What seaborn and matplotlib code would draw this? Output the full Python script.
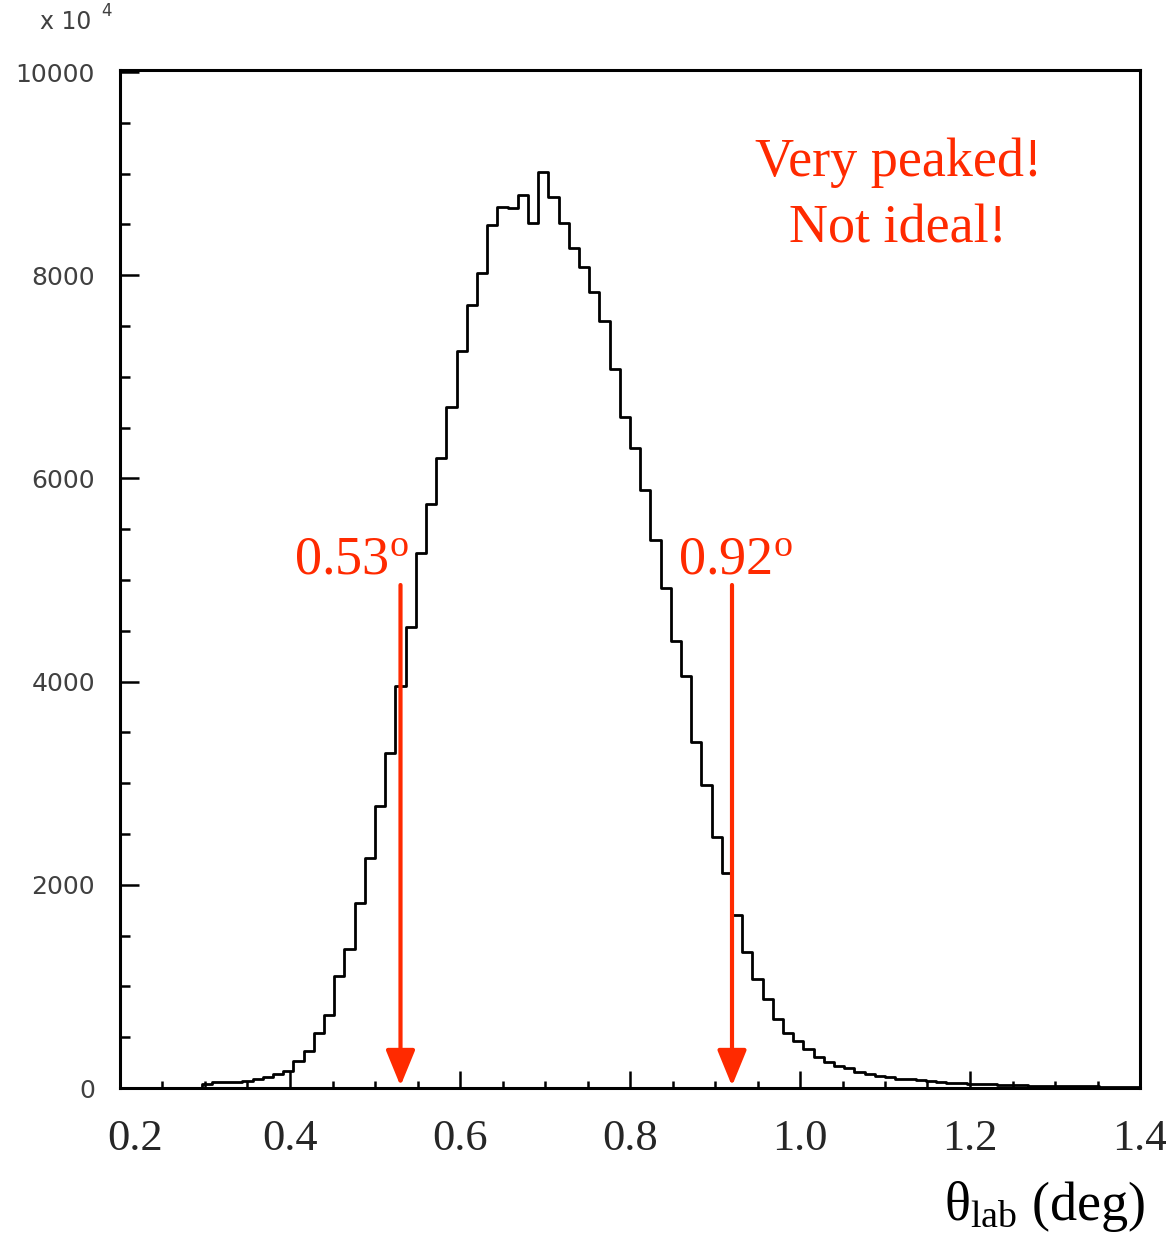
import numpy as np
import pandas as pd
import matplotlib
matplotlib.use("Agg")
import matplotlib.pyplot as plt
from matplotlib.ticker import MultipleLocator
from matplotlib.transforms import ScaledTranslation
import seaborn as sns

# Lab-frame scattering angle distribution: 100 bins of 0.012 deg on [0.2, 1.4] deg
theta_min = 0.2
theta_max = 1.4
n_bins = 100
counts = [
    0, 0, 0, 0, 0, 0, 0, 0, 35, 55,
    55, 62, 72, 88, 110, 135, 167, 270, 360, 540,
    718, 1105, 1366, 1822, 2259, 2779, 3296, 3952, 4535, 5270,
    5745, 6198, 6700, 7251, 7707, 8018, 8494, 8675, 8658, 8789,
    8517, 9019, 8766, 8517, 8264, 8084, 7838, 7553, 7077, 6601,
    6302, 5890, 5391, 4924, 4400, 4054, 3406, 2987, 2467, 2113,
    1702, 1342, 1070, 880, 678, 540, 463, 381, 302, 251,
    214, 192, 158, 136, 118, 104, 90, 88, 74, 64,
    60, 54, 50, 44, 40, 36, 34, 30, 28, 24,
    22, 20, 20, 24, 16, 15, 14, 14, 12, 12,
]

# Angular cuts marked with arrows
cut_angles = [0.53, 0.92]
cut_labels = [r"0.53$^{\mathrm{o}}$", r"0.92$^{\mathrm{o}}$"]
cut_label_x = [0.472, 0.9235]
note_lines = ["Very peaked!", "Not ideal!"]

x_ticks = [0.2, 0.4, 0.6, 0.8, 1.0, 1.2, 1.4]
x_tick_labels = ["0.2", "0.4", "0.6", "0.8", "1.0", "1.2", "1.4"]
y_ticks = [0, 2000, 4000, 6000, 8000, 10000]
y_tick_labels = ["0", "2000", "4000", "6000", "8000", "10000"]

edges = np.linspace(theta_min, theta_max, n_bins + 1)
centers = 0.5 * (edges[:-1] + edges[1:])
df = pd.DataFrame({"theta": centers, "count": counts})

sns.set_style("ticks")
plt.rcParams["font.family"] = ["DejaVu Sans"]
plt.rcParams["mathtext.fontset"] = "custom"
plt.rcParams["mathtext.rm"] = "Liberation Serif"
plt.rcParams["mathtext.it"] = "Liberation Serif:italic"
plt.rcParams["mathtext.bf"] = "Liberation Serif:bold"

RED = "#ff2a00"
SERIF = ["Liberation Serif", "DejaVu Serif"]
GREY = "#404040"

W, H = 1166, 1233
fig = plt.figure(figsize=(W / 100, H / 100), dpi=100)
fig.patch.set_facecolor("white")
ax = fig.add_axes([120 / W, (H - 1088) / H, 1020 / W, 1018 / H])
ax.set_facecolor("white")

sns.histplot(data=df, x="theta", weights="count", bins=edges.tolist(),
             element="step", fill=False, color="black", linewidth=2.0, ax=ax)

ax.set_xlim(theta_min, theta_max)
ax.set_ylim(0, 10020)
ax.set_xlabel("")
ax.set_ylabel("")

for side in ["left", "right", "top", "bottom"]:
    ax.spines[side].set_visible(True)
    ax.spines[side].set_linewidth(2.2)
    ax.spines[side].set_color("black")

ax.set_xticks(x_ticks)
ax.set_xticklabels(x_tick_labels)
ax.set_yticks(y_ticks)
ax.set_yticklabels(y_tick_labels)
ax.xaxis.set_minor_locator(MultipleLocator(0.05))
ax.yaxis.set_minor_locator(MultipleLocator(500))

ax.tick_params(axis="both", which="both", direction="in", top=False, right=False,
               width=1.8, color="black")
ax.tick_params(axis="x", which="major", length=12, pad=22, labelsize=32)
ax.tick_params(axis="x", which="minor", length=5)
ax.tick_params(axis="y", which="major", length=14, pad=18, labelsize=18,
               labelcolor=GREY)
ax.tick_params(axis="y", which="minor", length=7)
for lbl in ax.get_xticklabels():
    lbl.set_fontfamily(SERIF)
first = ax.get_xticklabels()[0]
first.set_transform(first.get_transform() + ScaledTranslation(0.15, 0, fig.dpi_scale_trans))

# y-axis exponent marker
fig.text(40 / W, 1 - 29 / H, "x 10", fontsize=17, color=GREY, va="baseline", ha="left")
fig.text(101 / W, 1 - 16 / H, "4", fontsize=12, color=GREY, va="baseline", ha="left")

# Cut arrows and their labels
for ang, lab, lx in zip(cut_angles, cut_labels, cut_label_x):
    ax.annotate("", xy=(ang, 20), xytext=(ang, 4951),
                arrowprops=dict(arrowstyle="-|>,head_length=1.1,head_width=0.45",
                                mutation_scale=20, color=RED, lw=3.0,
                                shrinkA=0, shrinkB=0))
    ax.text(lx, 5069, lab, color=RED, fontsize=39, family=SERIF,
            ha="center", va="baseline")

# Note in the upper right
ax.text(1.1153, 8976, note_lines[0], color=RED, fontsize=39, family=SERIF,
        ha="center", va="baseline")
ax.text(1.1153, 8327, note_lines[1], color=RED, fontsize=39, family=SERIF,
        ha="center", va="baseline")

# Axis title
fig.text(1145 / W, 1 - 1220 / H, r"θ$_{\mathrm{lab}}$ (deg)", fontsize=39,
         family=SERIF, ha="right", va="baseline", color="black")

fig.savefig("out.png", dpi=100, facecolor="white")
